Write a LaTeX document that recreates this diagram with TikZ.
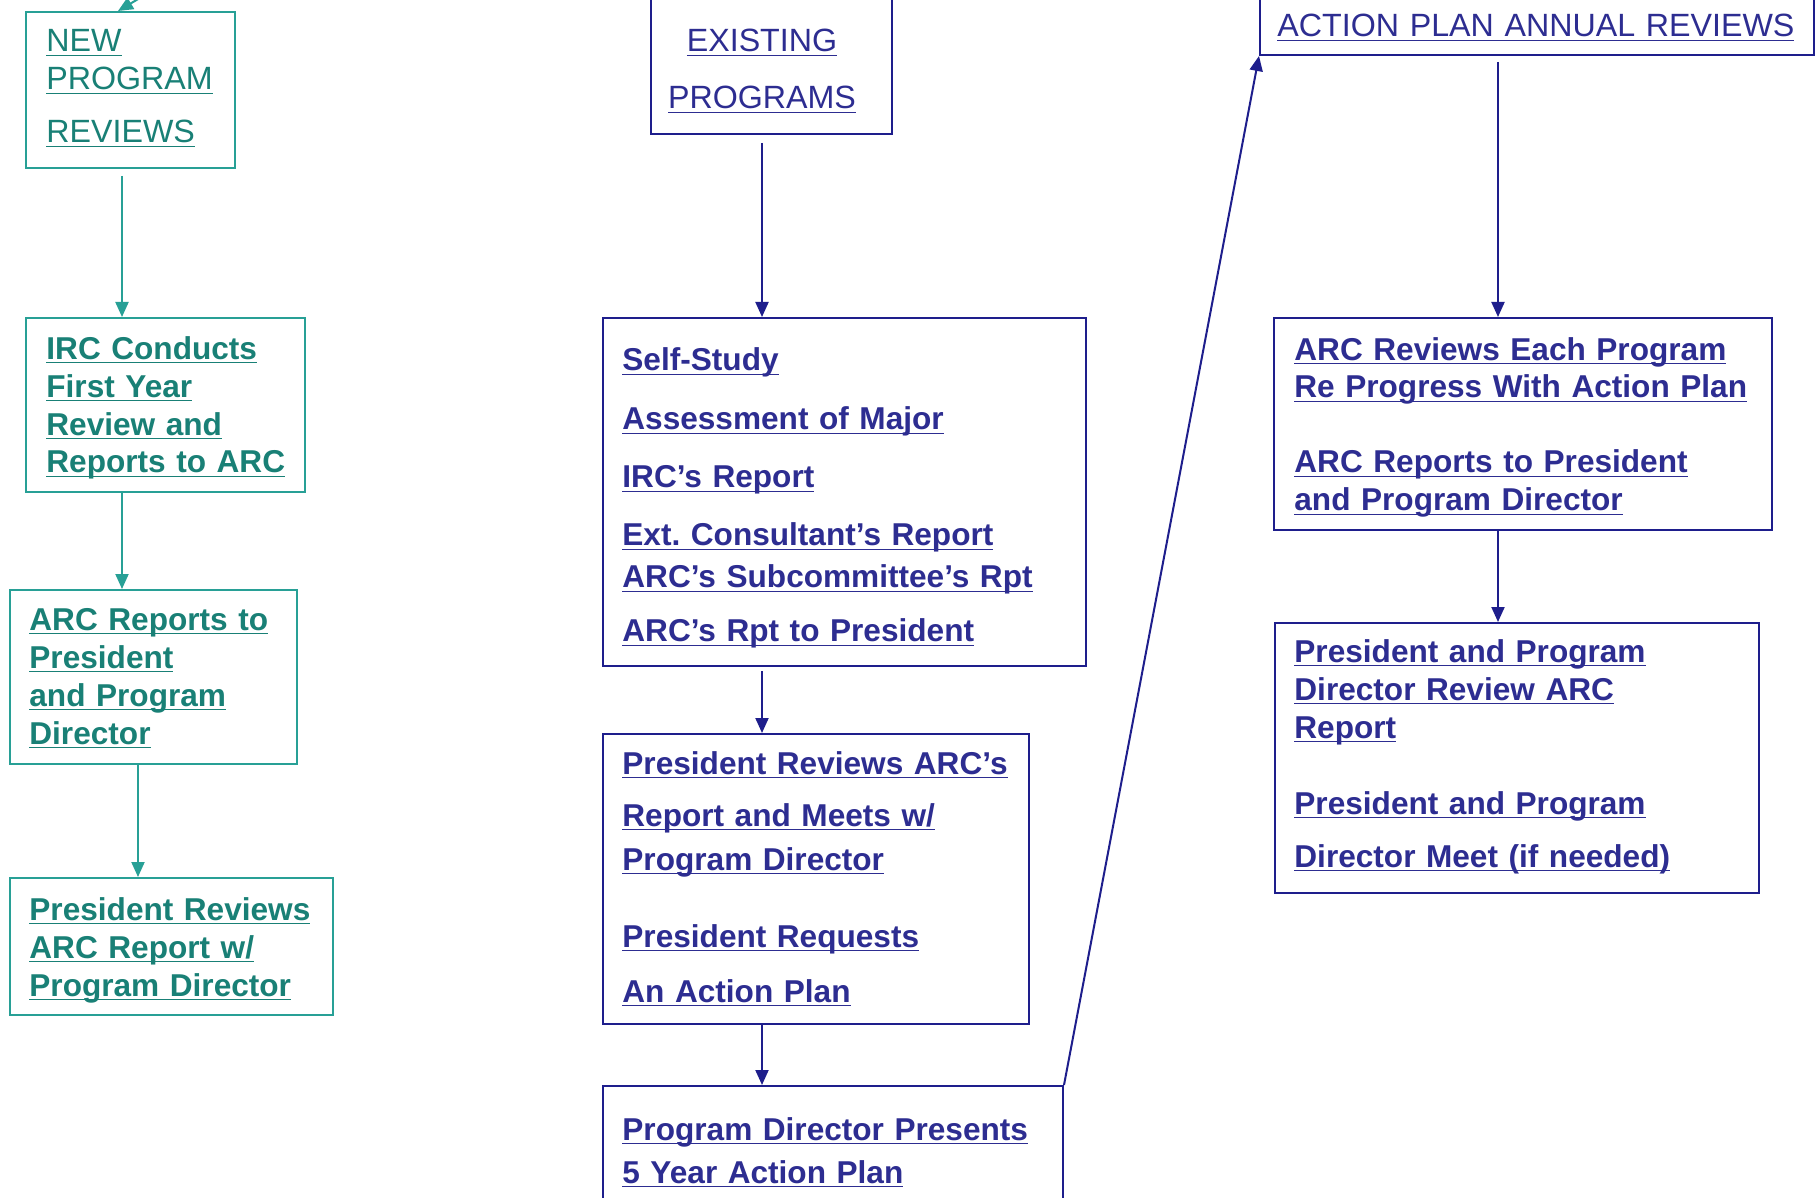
\documentclass[tikz,border=0pt]{standalone}
\usepackage{fontspec}
\setmainfont{Liberation Sans}
\usetikzlibrary{arrows.meta,positioning}

\definecolor{tealline}{RGB}{40,160,150}
\definecolor{tealtext}{RGB}{25,128,118}
\definecolor{navyline}{RGB}{30,30,140}
\definecolor{navytext}{RGB}{45,45,145}

\frenchspacing
\newsavebox{\undlbox}
\newcommand{\undl}[1]{\leavevmode\sbox{\undlbox}{#1}\rlap{\rule[-2.2pt]{\wd\undlbox}{0.9pt}}\usebox{\undlbox}}
\newcommand{\hdfont}{\fontsize{16.1}{19}\selectfont}
\newcommand{\bdfont}{\fontsize{15.8}{19}\selectfont\bfseries}

\begin{document}
\begin{tikzpicture}[x=0.5pt,y=-0.5pt]
  \tikzstyle{tealbox}=[draw=tealline,line width=1pt,inner sep=0pt,anchor=north west]
  \tikzstyle{navybox}=[draw=navyline,line width=1pt,inner sep=0pt,anchor=north west]
  \tikzstyle{tealtxt}=[text=tealtext,inner sep=0pt,anchor=base west,text width=300pt,align=left]
  \tikzstyle{navytxt}=[text=navytext,inner sep=0pt,anchor=base west,text width=300pt,align=left]
  \tikzstyle{tealflow}=[draw=tealline,line width=1pt,-{Triangle[length=7.5pt,width=6.5pt]}]
  \tikzstyle{navyflow}=[draw=navyline,line width=1pt,-{Triangle[length=7.5pt,width=6.5pt]}]

  \fill[white] (0,0) rectangle (1816,1198);
  \useasboundingbox (0,0) rectangle (1816,1198);

  % new programs
  \node[tealbox,minimum width=104.5pt,minimum height=78pt] (newrev) at (25,11) {};
  \node[tealtxt,font=\hdfont] (newtxt) at (46,52) {\undl{NEW}\\ \undl{PROGRAM}\\[7.5pt] \undl{REVIEWS}};

  \node[tealbox,minimum width=139.5pt,minimum height=87pt] (irc) at (25,317) {};
  \node[tealtxt,font=\bdfont] (irctxt) at (46,359) {\undl{IRC Conducts}\\ \undl{First Year}\\ \undl{Review and}\\ \undl{Reports to ARC}};

  \node[tealbox,minimum width=143.5pt,minimum height=87pt] (arcrep) at (9,589) {};
  \node[tealtxt,font=\bdfont] (arcreptxt) at (29,630) {\undl{ARC Reports to}\\ \undl{President}\\ \undl{and Program}\\ \undl{Director}};

  \node[tealbox,minimum width=161.5pt,minimum height=68.5pt] (presrev) at (9,877) {};
  \node[tealtxt,font=\bdfont] (presrevtxt) at (29,920) {\undl{President Reviews}\\ \undl{ARC Report w/}\\ \undl{Program Director}};

  % existing programs
  \node[navybox,minimum width=120.5pt,minimum height=76.5pt] (exist) at (650,-20) {};
  \node[text=navytext,inner sep=0pt,anchor=base,text width=130pt,align=center,font=\hdfont] (existtxt) at (762,52) {\undl{EXISTING}\\[9.5pt] \undl{PROGRAMS}};

  \node[navybox,minimum width=241.5pt,minimum height=174pt] (study) at (602,317) {};
  \node[navytxt,font=\bdfont] (studytxt) at (622,371) {\undl{Self-Study}\\[10.5pt] \undl{Assessment of Major}\\[10pt] \undl{IRC's Report}\\[10pt] \undl{Ext. Consultant's Report}\\[2pt] \undl{ARC's Subcommittee's Rpt}\\[8pt] \undl{ARC's Rpt to President}};

  \node[navybox,minimum width=213pt,minimum height=145pt] (presarc) at (602,733) {};
  \node[navytxt,font=\bdfont] (presarctxt) at (622,774) {\undl{President Reviews ARC's}\\[7pt] \undl{Report and Meets w/}\\[3pt] \undl{Program Director}\\[19.5pt] \undl{President Requests}\\[8.5pt] \undl{An Action Plan}};

  \node[navybox,minimum width=230pt,minimum height=80pt] (pdp) at (602,1085) {};
  \node[navytxt,font=\bdfont] (pdptxt) at (622,1140) {\undl{Program Director Presents}\\[2.5pt] \undl{5 Year Action Plan}};

  % annual reviews
  \node[navybox,minimum width=277pt,minimum height=37pt] (action) at (1259,-20) {};
  \node[navytxt,font=\hdfont] (actiontxt) at (1277,37) {\undl{ACTION PLAN ANNUAL REVIEWS}};

  \node[navybox,minimum width=249pt,minimum height=106pt] (arcrev) at (1273,317) {};
  \node[navytxt,font=\bdfont] (arcrevtxt) at (1294,360) {\undl{ARC Reviews Each Program}\\ \undl{Re Progress With Action Plan}\\[18.5pt] \undl{ARC Reports to President}\\ \undl{and Program Director}};

  \node[navybox,minimum width=242pt,minimum height=135pt] (presprog) at (1274,622) {};
  \node[navytxt,font=\bdfont] (presprogtxt) at (1294,662) {\undl{President and Program}\\ \undl{Director Review ARC}\\ \undl{Report}\\[19pt] \undl{President and Program}\\[7.5pt] \undl{Director Meet (if needed)}};

  % connectors
  \coordinate (tcolA) at (122,0);
  \coordinate (tcolB) at (138,0);
  \coordinate (ncolA) at (762,0);
  \coordinate (ncolB) at (1498,0);
  \coordinate (newin) at (187,-30);

  \draw[tealflow] (newin) -- ([xshift=-6.25pt]newrev.north);
  \draw[tealflow,shorten <=3.5pt] (newrev.south -| tcolA) -- (irc.north -| tcolA);
  \draw[tealflow] (irc.south -| tcolA) -- (arcrep.north -| tcolA);
  \draw[tealflow] (arcrep.south -| tcolB) -- (presrev.north -| tcolB);

  \draw[navyflow,shorten <=4pt] (exist.south -| ncolA) -- (study.north -| ncolA);
  \draw[navyflow,shorten <=2pt] (study.south -| ncolA) -- (presarc.north -| ncolA);
  \draw[navyflow] (presarc.south -| ncolA) -- (pdp.north -| ncolA);
  \draw[navyflow] (pdp.north east) -- (action.south west);

  \draw[navyflow,shorten <=3pt] (action.south -| ncolB) -- (arcrev.north -| ncolB);
  \draw[navyflow] (arcrev.south -| ncolB) -- (presprog.north -| ncolB);
\end{tikzpicture}
\end{document}
